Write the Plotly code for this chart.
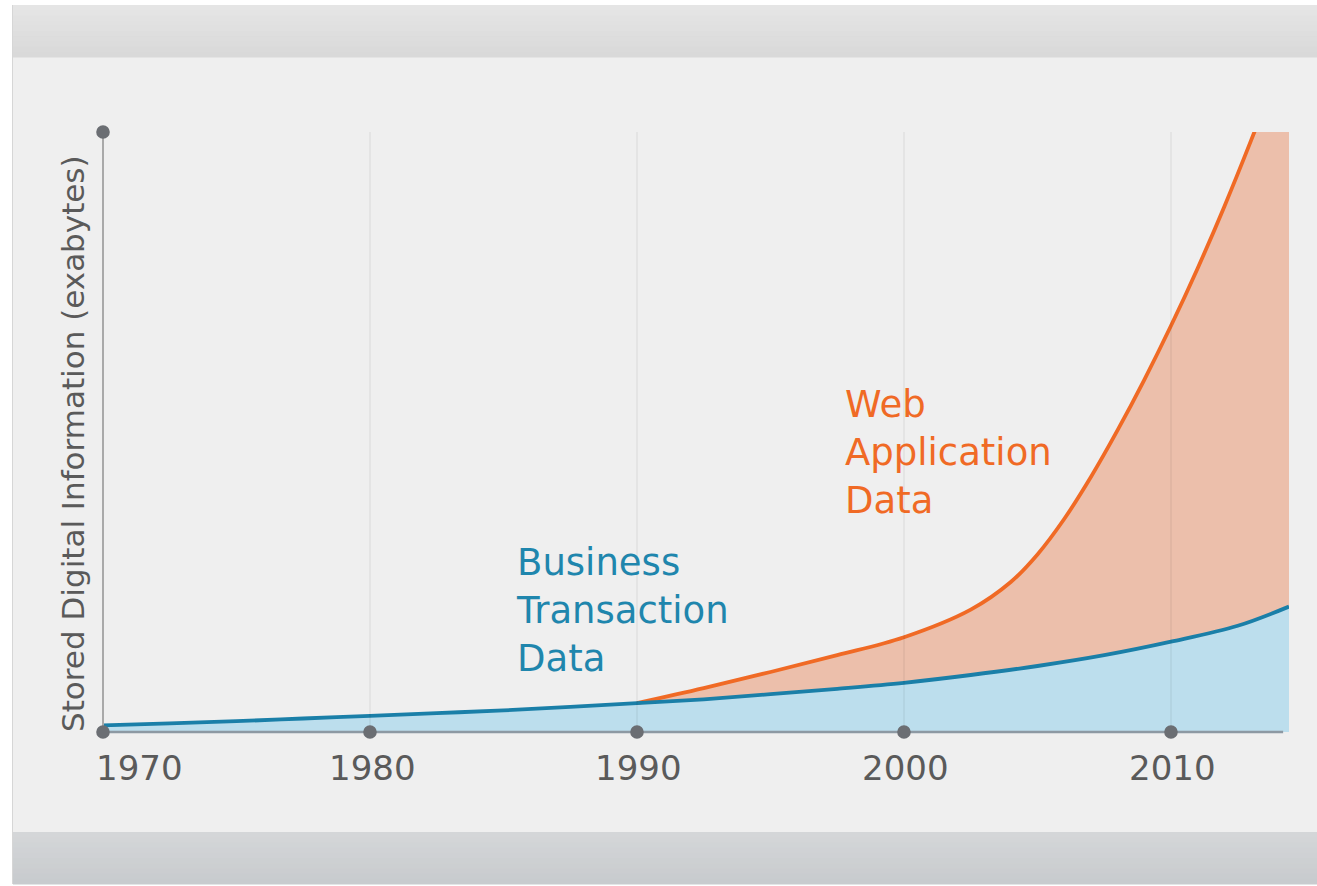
import plotly.graph_objects as go

# ---------------- data ----------------
# Business transaction data (blue curve, arbitrary exabyte units)
biz_years = [1970, 1972.5, 1975, 1977.5, 1980, 1982.5, 1985, 1987.5, 1990,
             1992.5, 1995, 1997.5, 2000, 2002.5, 2005, 2007.5, 2010, 2012.5, 2014.42]
business = [1.1, 1.45, 1.8, 2.25, 2.7, 3.15, 3.6, 4.2, 4.8,
            5.45, 6.3, 7.2, 8.2, 9.5, 11.0, 12.8, 15.05, 17.7, 20.9]

# Total stored data incl. web application data (orange curve, top of the stack)
web_years = [1990, 1992.5, 1995, 1997.5, 2000, 2002.5, 2004, 2005,
             2006, 2007, 2008, 2009, 2010, 2011, 2012, 2013, 2014.42]
web_total = [4.8, 7.3, 10.0, 12.8, 15.8, 20.4, 25.0, 29.6,
             35.5, 42.5, 50.3, 58.7, 67.7, 77.3, 87.6, 98.6, 115.0]

tick_years = [1970, 1980, 1990, 2000, 2010]
tick_labels = ["1970", "1980", "1990", "2000", "2010"]

y_title = "Stored Digital Information (exabytes)"
business_label = "Business<br>Transaction<br>Data"
web_label = "Web<br>Application<br>Data"

# ---------------- styling ----------------
W, H = 1317, 886
ML, MR, MT, MB = 103, 28, 132, 154
X_RANGE = [1970, 2014.42]
Y_RANGE = [0, 100]
FONT = "DejaVu Sans, Verdana, sans-serif"
BLUE_LINE = "#1a7fa8"
BLUE_FILL = "#bcdeed"
ORANGE_LINE = "#f06a25"
ORANGE_FILL = "#ecbfab"
BLUE_TEXT = "#1f86ad"
DOT = "#6b6e73"
TEXT = "#5a5a5a"

PW = W - ML - MR
PH = H - MT - MB


def px_x(p):
    return (p - ML) / PW


def px_y(p):
    return (H - MB - p) / PH


def data_x(v):
    return (v - X_RANGE[0]) / (X_RANGE[1] - X_RANGE[0])


def data_y(v):
    return (v - Y_RANGE[0]) / (Y_RANGE[1] - Y_RANGE[0])


def hexmix(c1, c2, t):
    a = [int(c1[i:i + 2], 16) for i in (1, 3, 5)]
    b = [int(c2[i:i + 2], 16) for i in (1, 3, 5)]
    return "#%02x%02x%02x" % tuple(round(a[k] + (b[k] - a[k]) * t) for k in range(3))


fig = go.Figure()

# blue area
fig.add_trace(go.Scatter(x=biz_years, y=business, mode="lines", fill="tozeroy",
                         fillcolor=BLUE_FILL,
                         line=dict(width=0, shape="spline", smoothing=1.0, color=BLUE_FILL),
                         hoverinfo="skip", showlegend=False))
# invisible lower boundary for the orange area (blue curve from where web data starts)
sub_x = [x for x in biz_years if x >= web_years[0]]
sub_y = [y for x, y in zip(biz_years, business) if x >= web_years[0]]
fig.add_trace(go.Scatter(x=sub_x, y=sub_y, mode="lines",
                         line=dict(width=0, shape="spline", smoothing=1.0, color=BLUE_FILL),
                         hoverinfo="skip", showlegend=False))
# orange area + line
fig.add_trace(go.Scatter(x=web_years, y=web_total, mode="lines", fill="tonexty",
                         fillcolor=ORANGE_FILL,
                         line=dict(width=3.8, shape="spline", smoothing=1.0, color=ORANGE_LINE),
                         hoverinfo="skip", showlegend=False))
# blue line
fig.add_trace(go.Scatter(x=biz_years, y=business, mode="lines",
                         line=dict(width=3.8, shape="spline", smoothing=1.0, color=BLUE_LINE),
                         hoverinfo="skip", showlegend=False))

shapes = []


# ---- panel background ----
def rect(x0, y0, x1, y1, color, layer="below"):
    shapes.append(dict(type="rect", xref="paper", yref="paper",
                       x0=px_x(x0), x1=px_x(x1), y0=px_y(y1), y1=px_y(y0),
                       fillcolor=color, line=dict(width=0), layer=layer))


rect(12, 5, W + 2, 884, "#d6d6d6")
rect(13, 57, W + 2, 832, "#efefef")
n = 10
for i in range(n):
    y0 = 5 + (57 - 5) * i / n
    y1 = 5 + (57 - 5) * (i + 1) / n
    rect(13, y0, W + 2, y1 + 0.5, hexmix("#e5e5e5", "#d9d9d9", i / (n - 1)))
for i in range(n):
    y0 = 832 + (884 - 832) * i / n
    y1 = 832 + (884 - 832) * (i + 1) / n
    rect(13, y0, W + 2, y1 + 0.5, hexmix("#d4d6d8", "#c8cbce", i / (n - 1)))

# ---- vertical grid lines ----
for t in tick_years[1:]:
    shapes.append(dict(type="line", xref="paper", yref="paper",
                       x0=data_x(t), x1=data_x(t), y0=0, y1=1,
                       line=dict(color="rgba(0,0,0,0.075)", width=1.2), layer="above"))

# ---- axis lines ----
x_axis_end = 2014.2
shapes.append(dict(type="line", xref="paper", yref="paper",
                   x0=data_x(tick_years[0]), x1=data_x(tick_years[0]), y0=0, y1=1,
                   line=dict(color="#a9a9a9", width=2), layer="above"))
shapes.append(dict(type="line", xref="paper", yref="paper",
                   x0=data_x(tick_years[0]), x1=data_x(x_axis_end), y0=0, y1=0,
                   line=dict(color="#8d99a3", width=2.5), layer="above"))


# ---- axis end dots ----
def dot(xv, yv):
    shapes.append(dict(type="circle", xref="paper", yref="paper",
                       xsizemode="pixel", ysizemode="pixel",
                       xanchor=data_x(xv), yanchor=data_y(yv),
                       x0=-6.8, x1=6.8, y0=-6.8, y1=6.8,
                       fillcolor=DOT, line=dict(width=0), layer="above"))


for t in tick_years:
    dot(t, Y_RANGE[0])
dot(tick_years[0], Y_RANGE[1])

annotations = []
# tick labels
for t, lab in zip(tick_years, tick_labels):
    first = t == tick_years[0]
    annotations.append(dict(x=t, y=0, xref="x", yref="y", text=lab,
                            showarrow=False, xanchor="left" if first else "center",
                            yanchor="middle", yshift=-36, xshift=-9 if first else 2,
                            font=dict(family=FONT, size=34, color=TEXT)))

# series labels
annotations.append(dict(x=1997.72, y=46.6, xref="x", yref="y", text=web_label,
                        showarrow=False, xanchor="left", yanchor="middle", align="left",
                        font=dict(family=FONT, size=37, color=ORANGE_LINE)))
annotations.append(dict(x=1985.4, y=20.2, xref="x", yref="y", text=business_label,
                        showarrow=False, xanchor="left", yanchor="middle", align="left",
                        font=dict(family=FONT, size=37, color=BLUE_TEXT)))

# y-axis title
annotations.append(dict(x=px_x(73), y=px_y(444), xref="paper", yref="paper",
                        text=y_title, textangle=-90, showarrow=False,
                        xanchor="center", yanchor="middle",
                        font=dict(family=FONT, size=31, color=TEXT)))

fig.update_layout(
    width=W, height=H,
    margin=dict(l=ML, r=MR, t=MT, b=MB, pad=0),
    paper_bgcolor="#ffffff", plot_bgcolor="rgba(0,0,0,0)",
    showlegend=False,
    shapes=shapes, annotations=annotations,
    xaxis=dict(range=X_RANGE, showgrid=False, zeroline=False,
               showticklabels=False, ticks="", showline=False, fixedrange=True),
    yaxis=dict(range=Y_RANGE, showgrid=False, zeroline=False,
               showticklabels=False, ticks="", showline=False, fixedrange=True),
)

fig.write_html("out.html", config={"displayModeBar": False},
               post_script="document.body.style.margin='0';document.body.style.overflow='hidden';")
